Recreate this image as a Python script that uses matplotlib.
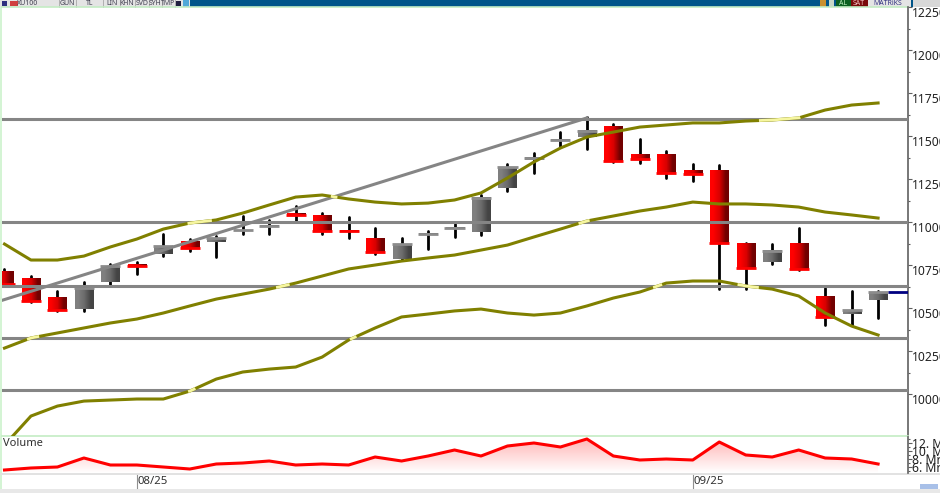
import numpy as np
import matplotlib
matplotlib.use('Agg')
import matplotlib.pyplot as plt
from matplotlib.patches import Rectangle

plt.rcParams['font.family'] = ['Noto Sans', 'DejaVu Sans']

# Daily candles, XU100
opens = [10715, 10674, 10558, 10494, 10651, 10750, 10814, 10884, 10884, 10948, 10971, 11047,
         11041, 10953, 10907, 10785, 10924, 10959, 10942, 11198, 11360, 11471, 11494, 11558,
         11390, 11390, 11302, 11302, 10878, 10767, 10878, 10570, 10465, 10547]
closes = [10640, 10541, 10488, 10616, 10744, 10744, 10860, 10849, 10907, 10953, 10977, 11041,
          10948, 10948, 10826, 10872, 10930, 10965, 11140, 11320, 11372, 11477, 11529, 11355,
          11366, 11285, 11279, 10878, 10733, 10831, 10727, 10448, 10488, 10593]
highs = [10727, 10686, 10599, 10651, 10756, 10767, 10930, 10901, 10919, 11035, 11012, 11093,
         11052, 11029, 10965, 10907, 10948, 10988, 11157, 11337, 11401, 11523, 11610, 11570,
         11483, 11413, 11337, 11331, 10878, 10872, 10965, 10616, 10599, 10599]
lows = [10640, 10535, 10483, 10483, 10634, 10698, 10802, 10831, 10797, 10930, 10930, 11000,
        10930, 10907, 10814, 10779, 10843, 10913, 10924, 11180, 11285, 11442, 11424, 11349,
        11343, 11256, 11238, 10610, 10610, 10756, 10721, 10401, 10401, 10442]

# Bollinger bands
band_up = [10872, 10779, 10779, 10802, 10855, 10901, 10959, 10994, 11012, 11052, 11099, 11145,
           11157, 11134, 11116, 11105, 11110, 11128, 11169, 11256, 11349, 11430, 11494, 11523,
           11552, 11564, 11576, 11576, 11587, 11593, 11605, 11651, 11680, 11692]
band_mid = [10267, 10326, 10355, 10384, 10413, 10436, 10471, 10512, 10552, 10581, 10610, 10645,
            10686, 10727, 10750, 10773, 10791, 10808, 10837, 10866, 10913, 10959, 11006, 11035,
            11064, 11087, 11116, 11105, 11105, 11099, 11087, 11058, 11041, 11023]
band_low = [9703, 9872, 9930, 9959, 9965, 9971, 9971, 10017, 10087, 10128, 10145, 10157,
            10215, 10314, 10384, 10448, 10465, 10483, 10494, 10471, 10459, 10471, 10512, 10558,
            10593, 10645, 10657, 10657, 10628, 10610, 10570, 10471, 10395, 10343]

# Volume (millions)
volume = [5.25, 5.75, 6, 8.25, 6.5, 6.5, 6, 5.5, 6.75, 7, 7.5, 6.5, 6.75, 6.5, 8.5, 7.5, 8.75,
          10.25, 8.75, 11.25, 12, 11, 13, 8.75, 7.75, 8, 7.75, 12.25, 9, 8.5, 10.25, 8.25, 8, 6.75]

# Horizontal levels and trend line
levels = [11599, 11000, 10628, 10326, 10023]
trend_x = [-0.17, 22]
trend_y = [10541, 11605]
last_price = 10593

price_ticks = [10000, 10250, 10500, 10750, 11000, 11250, 11500, 11750, 12000, 12250]
vol_ticks = [6, 8, 10, 12]
vol_labels = ['6. Mr', '8. Mr', '10. M', '12. M']
date_idx = [5, 26]
date_labels = ['08/25', '09/25']

W, H = 940, 493
fig = plt.figure(figsize=(W / 100, H / 100), dpi=100, facecolor='white')

def px_axes(l, t, r, b):
    return fig.add_axes([l / W, 1 - b / H, (r - l) / W, (b - t) / H])

# window chrome in pixels
bg = px_axes(0, 0, W, H)
bg.set_xlim(0, W)
bg.set_ylim(H, 0)
bg.axis('off')
bg.add_patch(Rectangle((0, 0), W, 7, color='#00558a', lw=0))
bg.add_patch(Rectangle((0, 0), 190, 7, color='#e4e4e4', lw=0))
bg.add_patch(Rectangle((0, 7), 2, H, color='#d4f4d4', lw=0))
bg.add_patch(Rectangle((0, 473), W, 2, color='#e2e2e2', lw=0))
bg.add_patch(Rectangle((0, 489), W, 4, color='#e8e8e8', lw=0))
bg.add_patch(Rectangle((2, 1), 5, 5, color='#303080', lw=0))
bg.add_patch(Rectangle((10, 1), 8, 5, color='#d04040', lw=0))
bg.add_patch(Rectangle((176, 1), 5, 5, color='#202040', lw=0))
bg.add_patch(Rectangle((183, 0), 6, 7, color='#50a8d8', lw=0))
bg.add_patch(Rectangle((820, 0), 6, 7, color='#c89030', lw=0))
bg.add_patch(Rectangle((829, 0), 5, 7, color='#c8d8c8', lw=0))
bg.add_patch(Rectangle((836, 0), 15, 7, color='#0a6020', lw=0))
bg.add_patch(Rectangle((851, 0), 17, 7, color='#7a0a0a', lw=0))
bg.add_patch(Rectangle((868, 0), 43, 7, color='#e4e4e4', lw=0))
bg.add_patch(Rectangle((913, 0), 27, 7, color='#d8d8d8', lw=0))
for x_b in [59, 76, 103, 120, 135, 149, 162, 175]:
    bg.plot([x_b, x_b], [0, 7], color='#b0b0b0', lw=0.7)
for x_t, lab in zip([28, 67, 90, 112, 127, 142, 155, 168], ['XU100', 'GUN', 'TL', 'LIN', 'KHN', 'SVD', 'SYH', 'TMP']):
    bg.text(x_t, 3.5, lab, fontsize=5, color='#404050', ha='center', va='center', fontweight='bold')
bg.text(843, 3.5, 'AL', fontsize=5, color='#c0f0c0', ha='center', va='center')
bg.text(859, 3.5, 'SAT', fontsize=5, color='#f0c0c0', ha='center', va='center')
bg.text(888, 3.5, 'MATRiKS', fontsize=5, color='#303080', ha='center', va='center', fontweight='bold')
bg.plot([137, 137], [475, 488], color='#909090', lw=0.8)
bg.plot([693, 693], [475, 488], color='#909090', lw=0.8)
bg.add_patch(Rectangle((920, 484), 18, 5, color='#a8c0e8', lw=0))

ax = px_axes(2, 7, 908, 436)
ax.patch.set_alpha(0)
n = len(opens)
x = np.arange(n)
xlim = (-0.094, 34.13)
ylim = (9756, 12250)

red_grad = np.array([[[1, 0, 0], [0.85, 0, 0], [0.45, 0, 0]]])
gray_grad = np.array([[[0.5, 0.5, 0.5], [0.42, 0.42, 0.42], [0.27, 0.27, 0.27]]])
w = 0.34
for i in range(n):
    down = closes[i] < opens[i]
    top = max(opens[i], closes[i])
    bot = min(opens[i], closes[i])
    ax.plot([x[i], x[i]], [lows[i], highs[i]], color='black', lw=2.0, solid_capstyle='round', zorder=2)
    ax.imshow(red_grad if down else gray_grad, extent=(x[i] - w, x[i] + w, bot, top),
              aspect='auto', interpolation='bilinear', zorder=3)
    if down:
        ax.plot([x[i] - w - 0.04, x[i] + w + 0.04], [bot, bot], color='#ff0000', lw=2.0, zorder=4, solid_capstyle='butt')
    else:
        ax.plot([x[i] - w - 0.04, x[i] + w + 0.04], [top, top], color='#8c8c8c', lw=2.0, zorder=4, solid_capstyle='butt')

for lev in levels:
    ax.axhline(lev, color='#858585', lw=2.2, zorder=5)
ax.plot(trend_x, trend_y, color='#858585', lw=2.2, zorder=5)
ax.plot(x, band_up, color='#808000', lw=2.2, zorder=6)
ax.plot(x, band_mid, color='#808000', lw=2.2, zorder=6)
ax.plot(x, band_low, color='#808000', lw=2.2, zorder=6)

# pale spot where a band runs over a gray line
fine_x = np.linspace(0, n - 1, 6000)
trend_fine = np.interp(fine_x, trend_x, trend_y)
for band in [band_up, band_mid, band_low]:
    fine_band = np.interp(fine_x, x, band)
    gray_lines = [np.full_like(fine_x, lev) for lev in levels]
    gray_lines.append(np.where(fine_x <= trend_x[1], trend_fine, np.nan))
    for g in gray_lines:
        spot = np.where(np.abs(fine_band - g) < 9, fine_band, np.nan)
        ax.plot(fine_x, spot, color='#f6f6a0', lw=2.0, zorder=7, solid_capstyle='butt')

ax.plot([33.38, 34.13], [last_price, last_price], color='#000080', lw=2.0, zorder=6, solid_capstyle='butt')
ax.set_xlim(xlim)
ax.set_ylim(ylim)

ax.yaxis.tick_right()
ax.set_yticks(price_ticks)
ax.set_yticklabels([str(t) for t in price_ticks], fontsize=8.8, color='#222222')
for lab in ax.get_yticklabels():
    lab.set_verticalalignment('top')
ax.set_yticks([t + 125 for t in price_ticks[:-1]], minor=True)
ax.tick_params(axis='y', which='major', length=3, width=0.8, color='#606060', pad=0)
ax.tick_params(axis='y', which='minor', length=1.5, width=0.8, color='#606060')
ax.set_xticks([])
for s in ['top', 'left']:
    ax.spines[s].set_visible(False)
ax.spines['right'].set_color('#606060')
ax.spines['right'].set_linewidth(1.2)
ax.spines['bottom'].set_color('#c4ecc4')
ax.spines['bottom'].set_linewidth(1.2)
ax.plot([0, 1], [1, 1], transform=ax.transAxes, color='#c4ecc4', lw=1.2, clip_on=False)

# volume panel
av = px_axes(2, 437, 908, 473)
av.patch.set_alpha(0)
av.set_xlim(xlim)
av.set_ylim(4.5, 13.5)
fade = np.linspace(0, 1, 64).reshape(-1, 1, 1) * np.array([[[0, 1, 1]]]) + np.array([[[1, 0, 0]]])
fade[:, :, 1:] = 0.72 + 0.28 * fade[:, :, 1:]
im = av.imshow(fade, extent=(0, n - 1, 4.5, 13), aspect='auto', interpolation='bilinear', origin='upper', zorder=1)
fill = av.fill_between(x, 4.5, volume, color='none')
im.set_clip_path(fill.get_paths()[0], transform=av.transData)
av.plot(x, volume, color='#ff0000', lw=2.2, zorder=3)
av.set_xlim(xlim)
av.set_ylim(4.5, 13.5)
av.yaxis.tick_right()
av.set_yticks(vol_ticks)
av.set_yticklabels(vol_labels, fontsize=8.8, color='#222222')
av.set_yticks([5, 7, 9, 11, 13], minor=True)
av.tick_params(axis='y', which='major', length=3, width=0.8, color='#606060', pad=0)
av.tick_params(axis='y', which='minor', length=1.5, width=0.8, color='#606060')
av.set_xticks([])
for s in ['top', 'left', 'bottom']:
    av.spines[s].set_visible(False)
av.spines['right'].set_color('#606060')
av.spines['right'].set_linewidth(1.2)
av.text(1 / 906, 0.98, 'Volume', transform=av.transAxes, fontsize=8, color='#303030', va='top', ha='left')

# dates under the volume panel
for i, lab in zip(date_idx, date_labels):
    bg.text(4.5 + 26.48 * i + 1, 481.5, lab, fontsize=8.2, color='#303030', va='center', ha='left')

fig.savefig('out.png', dpi=100)
